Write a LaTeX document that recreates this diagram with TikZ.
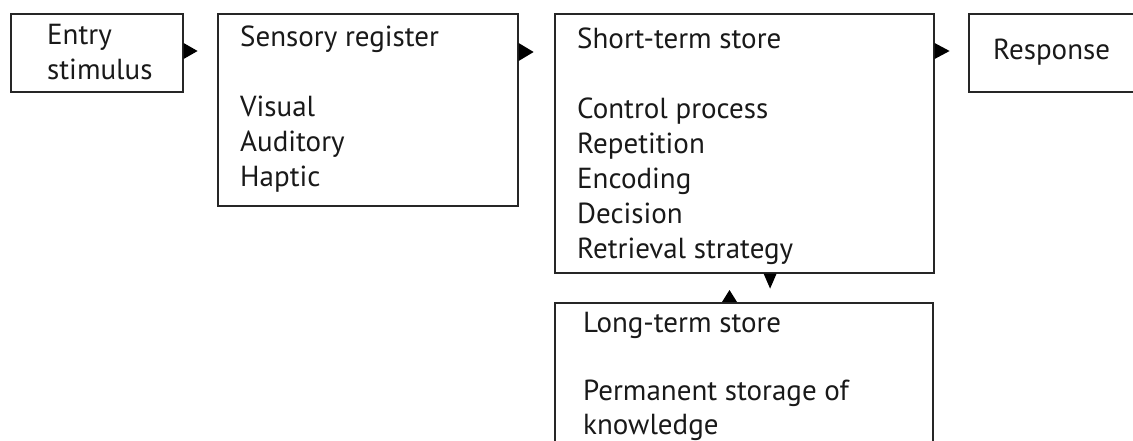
\documentclass[tikz,border=0pt]{standalone}
\usepackage{fontspec}
\setmainfont{PT Sans}
\begin{document}
\begin{tikzpicture}[x=1pt,y=-1pt,
  box/.style={draw=black!85, line width=1.6pt, inner sep=0, anchor=north west},
  txt/.style={anchor=base west, inner sep=0, text=black!90, font=\fontsize{29}{35}\selectfont},
  head/.style={fill=black}]
\useasboundingbox (0,0) rectangle (1133,441);
\clip (0,0) rectangle (1133,441);
% boxes
\node[box, minimum width=172pt, minimum height=78pt] (entry) at (10,13) {};
\node[box, minimum width=300pt, minimum height=192pt] (sensory) at (217,13) {};
\node[box, minimum width=379pt, minimum height=259pt] (short) at (554,13) {};
\node[box, minimum width=378pt, minimum height=200pt] (long) at (554,302) {};
\node[box, minimum width=200pt, minimum height=78pt] (response) at (968,13) {};
% texts
\node[txt] (entryT) at (47,45) {\vtop{\hbox{Entry}\hbox{stimulus}}};
\node[txt] (sensoryT) at (240,47) {\vtop{\hbox{Sensory register}\hbox{}\hbox{Visual}\hbox{Auditory}\hbox{Haptic}}};
\node[txt] (shortT) at (577,49) {\vtop{\hbox{Short-term store}\hbox{}\hbox{Control process}\hbox{Repetition}\hbox{Encoding}\hbox{Decision}\hbox{Retrieval strategy}}};
\node[txt] (longT) at (583,332) {\baselineskip=34pt\vtop{\hbox{Long-term store}\hbox{}\hbox{Permanent storage of}\hbox{knowledge}}};
\node[txt] (responseT) at (993,60) {Response};
% arrowheads
\fill[head] (entry.north east) ++(0,30) -- ++(14,8) -- ++(-14,8) -- cycle;
\fill[head] (sensory.north east) ++(0,30) -- ++(15,9) -- ++(-15,9) -- cycle;
\fill[head] (short.north east) ++(0,30) -- ++(15,8) -- ++(-15,8) -- cycle;
\fill[head] (short.south east) ++(-171,0) -- ++(6.5,15) -- ++(6.5,-15) -- cycle;
\fill[head] (long.north west) ++(168,0) -- ++(7.5,-12) -- ++(7.5,12) -- cycle;
\end{tikzpicture}
\end{document}
